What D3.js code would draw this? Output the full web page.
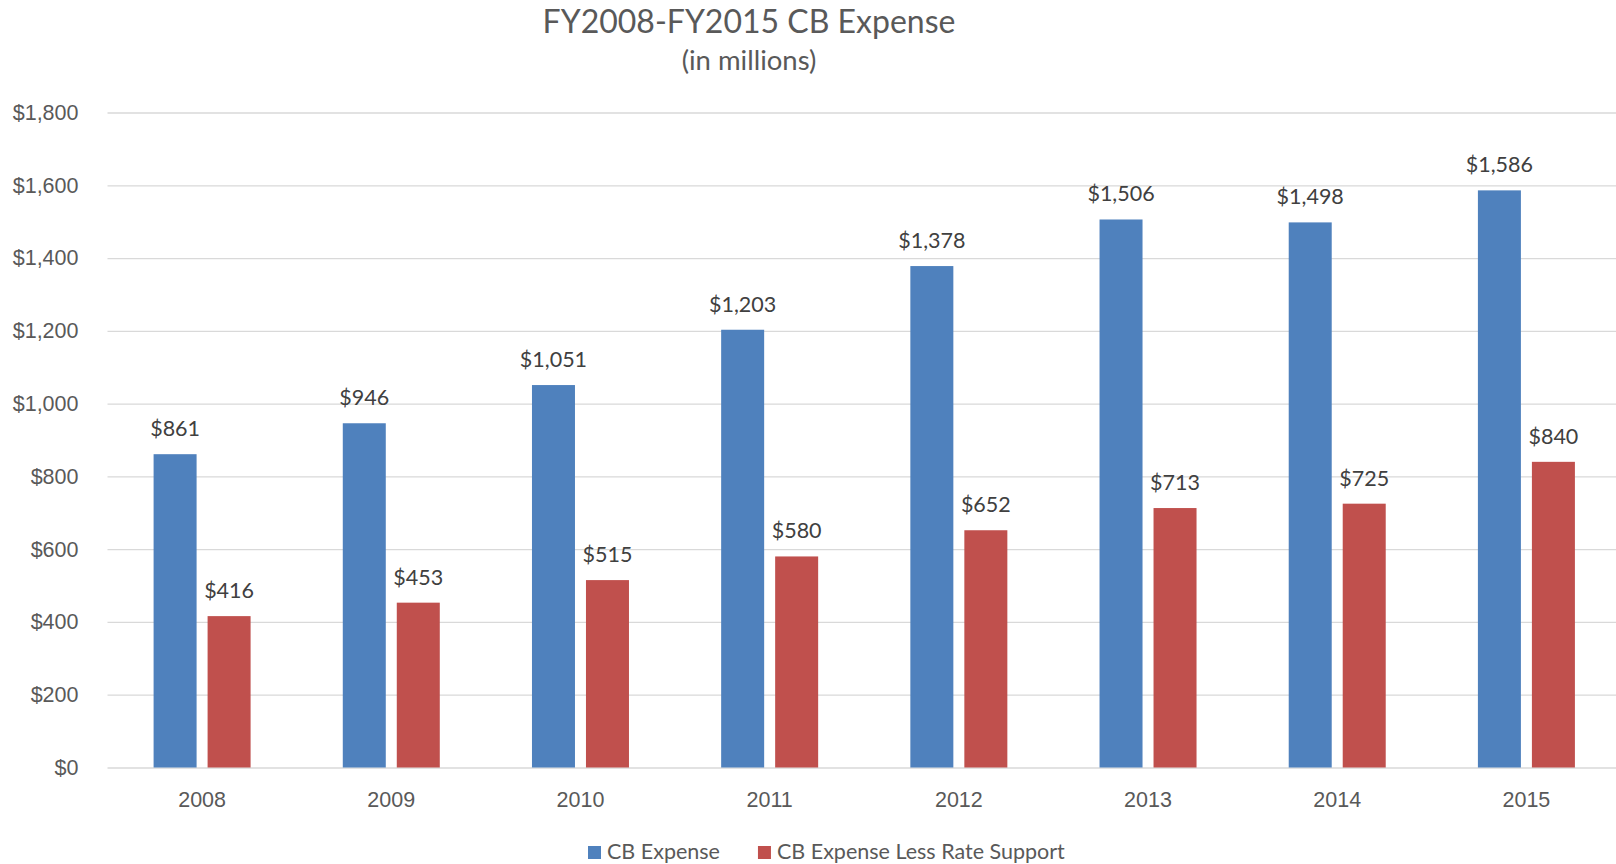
<!DOCTYPE html>
<html>
<head>
<meta charset="utf-8">
<script src="https://cdn.jsdelivr.net/npm/d3@7"></script>
<style>
  body { margin: 0; background: #fff; }
  svg { display: block; font-family: Lato, "Open Sans", sans-serif; }
  .axis text { fill: #595959; font-size: 21.5px; }
  .axis .domain { display: none; }
</style>
</head>
<body>
<svg></svg>
<script>
// chart data
var years = ["2008", "2009", "2010", "2011", "2012", "2013", "2014", "2015"]
var cbExpense = [861, 946, 1051, 1203, 1378, 1506, 1498, 1586]
var cbLessRate = [416, 453, 515, 580, 652, 713, 725, 840]
var seriesNames = ["CB Expense", "CB Expense Less Rate Support"]
var seriesColors = ["#4F81BD", "#C0504D"]
var yTicks = [0, 200, 400, 600, 800, 1000, 1200, 1400, 1600, 1800]

var screen = {width: 1616, height: 864}
var plot = {left: 107.5, right: 1621, top: 112.5, bottom: 767.5}

var svg = d3.select("svg")
  .attr("width", screen.width)
  .attr("height", screen.height)

var money = function(d) { return "$" + d3.format(",")(d) }

var xScale = d3.scaleBand()
  .domain(years)
  .range([plot.left, plot.right])
  .padding(0)

// two bars inside a group, 43px wide with 11px gap
var xInner = d3.scaleBand()
  .domain(seriesNames)
  .range([-48.5, 48.5])
  .paddingInner(0.2037)
  .paddingOuter(0)

var yScale = d3.scaleLinear()
  .domain([0, 1800])
  .range([plot.bottom, plot.top])

//y axis with gridlines
var yAxis = d3.axisLeft(yScale)
  .tickValues(yTicks)
  .tickFormat(money)
  .tickSize(-(screen.width - plot.left))
  .tickPadding(29)

svg.append("g")
  .attr("class", "axis")
  .attr("transform", "translate(" + plot.left + ",0)")
  .call(yAxis)
  .call(function(g) {
    g.selectAll(".tick line").attr("stroke", "#d9d9d9").attr("stroke-width", 1.3)
  })

var xAxis = d3.axisBottom(xScale)
  .tickSize(0)
  .tickPadding(24)

svg.append("g")
  .attr("class", "axis")
  .attr("transform", "translate(0," + plot.bottom + ")")
  .call(xAxis)

// rows for the bars
var rows = years.map(function(y, i) {
  return {year: y, values: [
    {name: seriesNames[0], value: cbExpense[i], color: seriesColors[0]},
    {name: seriesNames[1], value: cbLessRate[i], color: seriesColors[1]}
  ]}
})

var groups = svg.append("g")
  .selectAll("g")
  .data(rows)
  .join("g")
  .attr("transform", function(d) {
    return "translate(" + (xScale(d.year) + xScale.bandwidth() / 2) + ",0)"
  })

groups.selectAll("rect")
  .data(function(d) { return d.values })
  .join("rect")
  .attr("x", function(d) { return xInner(d.name) })
  .attr("width", xInner.bandwidth())
  .attr("y", function(d) { return yScale(d.value) })
  .attr("height", function(d) { return plot.bottom - yScale(d.value) })
  .attr("fill", function(d) { return d.color })

groups.selectAll("text")
  .data(function(d) { return d.values })
  .join("text")
  .attr("x", function(d) { return xInner(d.name) + xInner.bandwidth() / 2 })
  .attr("y", function(d) { return yScale(d.value) - 18 })
  .attr("text-anchor", "middle")
  .attr("fill", "#404040")
  .style("font-size", "21.5px")
  .text(function(d) { return money(d.value) })

// title
svg.append("text")
  .attr("x", 749)
  .attr("y", 33)
  .attr("text-anchor", "middle")
  .attr("fill", "#595959")
  .style("font-size", "32px")
  .text("FY2008-FY2015 CB Expense")

svg.append("text")
  .attr("x", 749)
  .attr("y", 70)
  .attr("text-anchor", "middle")
  .attr("fill", "#595959")
  .style("font-size", "27.5px")
  .text("(in millions)")

// legend
var legend = svg.append("g").attr("transform", "translate(588,0)")
var lx = 0
seriesNames.forEach(function(name, i) {
  var item = legend.append("g").attr("transform", "translate(" + lx + ",0)")
  item.append("rect")
    .attr("x", 0).attr("y", 846)
    .attr("width", 13).attr("height", 13)
    .attr("fill", seriesColors[i])
  var t = item.append("text")
    .attr("x", 19).attr("y", 859)
    .attr("fill", "#595959")
    .style("font-size", "21.5px")
    .text(name)
  lx += 19 + t.node().getComputedTextLength() + 38
})
</script>
</body>
</html>
